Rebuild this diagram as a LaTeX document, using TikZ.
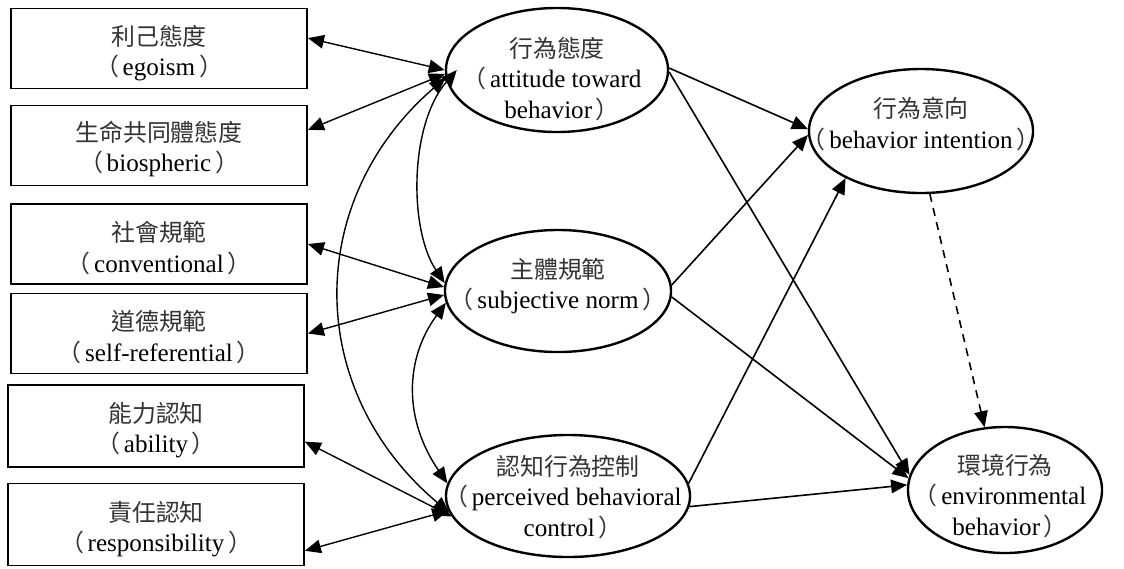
\documentclass[tikz,border=0pt]{standalone}
\usepackage{fontspec}
\setmainfont{Liberation Serif}[Scale=1.05]
\newfontfamily\cjk{Noto Sans CJK TC}
\usetikzlibrary{arrows.meta,shapes.geometric}
\def\zh#1{{\cjk\color{black!80}#1}}
\def\lp{\makebox[0.55em][r]{\zh{（}}\hspace{0.15em}}
\def\rp{\hspace{0.15em}\makebox[0.55em][l]{\zh{）}}}
\tikzset{
	box/.style={draw, line width=0.45mm, minimum width=7.4cm, minimum height=2cm},
	oval/.style={draw, ellipse, line width=0.6mm, inner sep=0},
	txt/.style={align=center, inner sep=0, font=\fontsize{17}{21.5}\selectfont},
	link/.style={line width=0.35mm, {Triangle[length=4mm,width=3.4mm]}-{Triangle[length=4mm,width=3.4mm]}},
	flow/.style={line width=0.4mm, -{Triangle[length=4mm,width=3.4mm]}}
}

\begin{document}
\begin{tikzpicture}[x=0.025cm, y=-0.025cm]
		%%%%% START %%%%%
		\useasboundingbox (0, 0) rectangle (1124, 568);
		
		\node[box] (ego) at (159, 48.5) {};
		\node[box] (bio) at (159, 145.5) {};
		\node[box] (conv) at (159, 244) {};
		\node[box] (self) at (159, 333.5) {};
		\node[box, minimum height=2.05cm] (abil) at (156, 426) {};
		\node[box, minimum height=2.05cm] (resp) at (156, 524.5) {};
		
		\node[txt] (ego-t) at (159, 53) {\zh{利己態度}\\\lp egoism\rp};
		\node[txt] (bio-t) at (159, 149) {\zh{生命共同體態度}\\\lp biospheric\rp};
		\node[txt] (conv-t) at (159, 248) {\zh{社會規範}\\\lp conventional\rp};
		\node[txt] (self-t) at (159, 337) {\zh{道德規範}\\\lp self-referential\rp};
		\node[txt] (abil-t) at (156, 430) {\zh{能力認知}\\\lp ability\rp};
		\node[txt] (resp-t) at (156, 529) {\zh{責任認知}\\\lp responsibility\rp};
		
		\node[oval, minimum width=5.55cm, minimum height=3.1cm] (att) at (557, 70) {};
		\node[oval, minimum width=5.65cm, minimum height=3.05cm] (sub) at (558, 291) {};
		\node[oval, minimum width=6.1cm, minimum height=3.05cm] (per) at (568, 496) {};
		\node[oval, minimum width=5.6cm, minimum height=3.1cm] (int) at (921, 131) {};
		\node[oval, minimum width=4.85cm, minimum height=3.15cm] (env) at (1005, 490) {};
		
		\node[txt] (att-t) at (557, 79) {\zh{行為態度}\\\lp attitude toward\\behavior\rp};
		\node[txt] (sub-t) at (558, 286) {\zh{主體規範}\\\lp subjective norm\rp};
		\node[txt] (per-t) at (568, 497) {\zh{認知行為控制}\\\lp perceived behavioral\\control\rp};
		\node[txt] (int-t) at (921, 124) {\zh{行為意向}\\\lp behavior intention\rp};
		\node[txt] (env-t) at (1005, 496) {\zh{環境行為}\\\lp environmental\\behavior\rp};
		
		% left side
		\draw[link] (ego.4) -- (att.180);
		\draw[link] (bio.6) -- (att.182);
		\draw[link] (conv.east) -- (sub.178);
		\draw[link] (self.east) -- (sub.182);
		\draw[link] (abil.-6) -- (per.190);
		\draw[link] (resp.-10) -- (per.187);
		
		\draw[link] (sub.176) .. controls (409, 230) and (409, 125) .. ([xshift=0.3cm]att.west);
		\draw[link] (att.184) .. controls (304, 200) and (304, 390) .. (per.188);
		\draw[link] (sub.186) .. controls (404, 360) and (404, 420) .. (per.174);
		
		% right side
		\draw[flow] (att.1) -- (int.179);
		\draw[flow] (att.-1) -- (env.171);
		\draw[flow] (sub.3) -- (int.182);
		\draw[flow] (sub.-3) -- (env.173);
		\draw[flow] (per.6) -- (int.212);
		\draw[flow] (per.-5) -- (env.177);
		\draw[flow, dash pattern=on 2mm off 1.6mm] (int.-82) -- (env.108);
		
		%%%%% END %%%%%
	\end{tikzpicture}
\end{document}
